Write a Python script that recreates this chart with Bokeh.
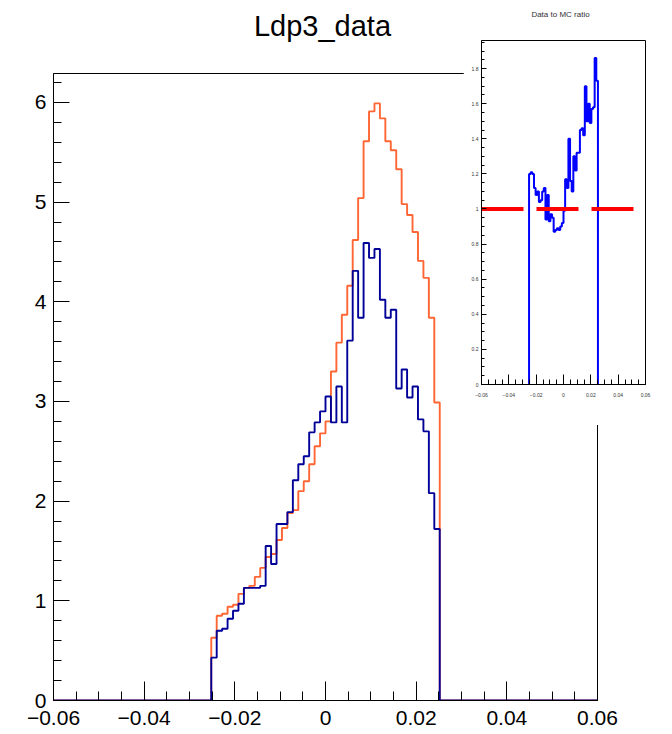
import numpy as np
from bokeh.plotting import figure
from bokeh.models import Range1d, FixedTicker, CustomJSTickFormatter, Column
from bokeh.core.properties import value
from bokeh.embed import file_html
from bokeh.resources import INLINE

# ---------------- data ----------------
N_BINS = 100
X_MIN, X_MAX = -0.06, 0.06
FIRST_BIN = 29          # first non-empty bin (0-based)

mc_values = [0.63, 0.85, 0.87, 0.94, 0.96, 1.07, 1.13, 1.15, 1.24, 1.33,
             1.44, 1.47, 1.61, 1.73, 1.88, 1.91, 2.10, 2.20, 2.37, 2.55,
             2.68, 2.80, 3.30, 3.59, 3.87, 4.16, 4.62, 5.04, 5.61, 5.91,
             5.99, 5.84, 5.61, 5.52, 5.33, 4.98, 4.87, 4.70, 4.41, 4.24,
             3.84, 2.99]

data_values = [0.43, 0.70, 0.72, 0.82, 0.90, 0.97, 1.13, 1.13, 1.13, 1.15,
               1.55, 1.37, 1.77, 1.77, 1.89, 2.21, 2.37, 2.45, 2.69, 2.79,
               2.90, 3.05, 2.79, 3.15, 2.79, 3.61, 4.31, 3.84, 4.59, 4.44,
               4.53, 4.02, 3.84, 3.92, 3.13, 3.32, 3.04, 3.15, 2.82, 2.70,
               2.08, 1.72]

ratio_values = [1.20, 1.21, 1.20, 1.12, 1.08, 1.10, 1.04, 1.05, 1.10, 1.12,
                0.94, 1.08, 0.93, 0.97, 0.95, 0.87, 0.88, 0.89, 0.88, 0.90,
                0.92, 0.99, 1.17, 1.12, 1.40, 1.16, 1.10, 1.30, 1.22, 1.32,
                1.32, 1.45, 1.46, 1.42, 1.70, 1.50, 1.60, 1.49, 1.57, 1.58,
                1.86, 1.73]

ratio_reference = 1.0

x_ticks = [-0.06, -0.04, -0.02, 0.0, 0.02, 0.04, 0.06]
y_ticks = [0, 1, 2, 3, 4, 5, 6]
inset_y_ticks = [0, 0.2, 0.4, 0.6, 0.8, 1.0, 1.2, 1.4, 1.6, 1.8]

main_title = "Ldp3_data"
inset_title = "Data to MC ratio"

Y_MAX = 6.29
INSET_Y_MAX = 1.96

FONT = "Liberation Sans"
MC_COLOR = "#ff6633"
DATA_COLOR = "#000099"

W, H = 672, 734

# ---------------- helpers ----------------
edges = np.linspace(X_MIN, X_MAX, N_BINS + 1)


def full_hist(vals):
    h = np.zeros(N_BINS)
    h[FIRST_BIN:FIRST_BIN + len(vals)] = vals
    return h


def outline(h):
    xs, ys = [edges[0]], [0.0]
    for i in range(N_BINS):
        xs += [edges[i], edges[i + 1]]
        ys += [h[i], h[i]]
    xs.append(edges[-1])
    ys.append(0.0)
    return xs, ys


def outline_range(vals):
    lo = FIRST_BIN
    xs, ys = [edges[lo]], [0.0]
    for k, v in enumerate(vals):
        xs += [edges[lo + k], edges[lo + k + 1]]
        ys += [v, v]
    xs.append(edges[lo + len(vals)])
    ys.append(0.0)
    return xs, ys


x_fmt = CustomJSTickFormatter(code="""
if (Math.abs(tick) < 1e-9) { return "0"; }
const s = Math.abs(tick).toFixed(2);
return tick < 0 ? "\u2212" + s : s;
""")

y_fmt_inset = CustomJSTickFormatter(code="""
if (Math.abs(tick) < 1e-9) { return "0"; }
if (Math.abs(tick - Math.round(tick)) < 1e-9) { return tick.toFixed(0); }
return tick.toFixed(1);
""")

x_minor = [round(v, 4) for v in np.arange(X_MIN, X_MAX + 1e-9, 0.005)]
y_minor = [round(v, 2) for v in np.arange(0, Y_MAX, 0.2)]
inset_y_minor = [round(v, 2) for v in np.arange(0, INSET_Y_MAX, 0.05)]

# ---------------- main figure ----------------
p = figure(width=W, height=H, output_backend="svg", toolbar_location=None,
           x_range=Range1d(X_MIN, X_MAX), y_range=Range1d(0, Y_MAX),
           min_border_left=53, min_border_right=75, min_border_top=73,
           min_border_bottom=34)
p.frame_align = False
p.background_fill_color = "white"
p.border_fill_color = "white"
p.outline_line_color = "black"
p.outline_line_width = 1
p.xgrid.visible = False
p.ygrid.visible = False

for ax in (p.xaxis[0], p.yaxis[0]):
    ax.axis_line_color = "black"
    ax.major_tick_line_color = "black"
    ax.minor_tick_line_color = "black"
    ax.major_tick_out = 0
    ax.minor_tick_out = 0
    ax.major_label_text_font = FONT
    ax.major_label_text_font_size = "21px"
    ax.major_label_text_color = "black"

p.xaxis.ticker = FixedTicker(ticks=x_ticks, minor_ticks=x_minor)
p.xaxis.formatter = x_fmt
p.xaxis.major_tick_in = 19
p.xaxis.minor_tick_in = 9
p.xaxis.major_label_standoff = 10

p.yaxis.ticker = FixedTicker(ticks=y_ticks, minor_ticks=y_minor)
p.yaxis.major_tick_in = 16
p.yaxis.minor_tick_in = 8
p.yaxis.major_label_standoff = 7

mx, my = outline(full_hist(mc_values))
dx, dy = outline(full_hist(data_values))
p.line(mx, my, line_color=MC_COLOR, line_width=1.9)
p.line(dx, dy, line_color=DATA_COLOR, line_width=1.9)

# ---------------- inset figure ----------------
q = figure(width=209, height=425, output_backend="svg", toolbar_location=None,
           x_range=Range1d(X_MIN, X_MAX), y_range=Range1d(0, INSET_Y_MAX),
           min_border_left=18, min_border_right=27, min_border_top=40,
           min_border_bottom=41)
q.frame_align = False
q.background_fill_color = "white"
q.border_fill_color = "white"
q.outline_line_color = "black"
q.outline_line_width = 1
q.xgrid.visible = False
q.ygrid.visible = False

for ax in (q.xaxis[0], q.yaxis[0]):
    ax.axis_line_color = "black"
    ax.major_tick_line_color = "black"
    ax.minor_tick_line_color = "black"
    ax.major_tick_out = 0
    ax.minor_tick_out = 0
    ax.major_label_text_font = FONT
    ax.major_label_text_font_size = "5px"
    ax.major_label_text_color = "#333333"

q.xaxis.ticker = FixedTicker(ticks=x_ticks, minor_ticks=x_minor)
q.xaxis.formatter = x_fmt
q.xaxis.major_tick_in = 10
q.xaxis.minor_tick_in = 5
q.xaxis.major_label_standoff = 8

q.yaxis.ticker = FixedTicker(ticks=inset_y_ticks, minor_ticks=inset_y_minor)
q.yaxis.formatter = y_fmt_inset
q.yaxis.major_tick_in = 5
q.yaxis.minor_tick_in = 3
q.yaxis.major_label_standoff = 3

rx, ry = outline_range(ratio_values)
q.line(rx, ry, line_color="#0000ff", line_width=2)
q.line([X_MIN, X_MAX], [ratio_reference, ratio_reference], line_color="red",
       line_width=4, line_dash="42 13")

q.styles = {"position": "absolute", "left": "463px", "top": "0px", "z-index": "10"}

# ---------------- transparent text layer for the two titles ----------------
t = figure(width=W, height=H, output_backend="svg", toolbar_location=None,
           x_range=Range1d(0, W), y_range=Range1d(H, 0), min_border=0,
           x_axis_location=None, y_axis_location=None)
t.frame_align = False
t.grid.visible = False
t.outline_line_color = None
t.background_fill_alpha = 0
t.border_fill_alpha = 0
t.text(x=[322], y=[25], text=[main_title], text_font=value(FONT),
       text_font_size="29px", text_color="black", text_align="center",
       text_baseline="alphabetic")
t.text(x=[560], y=[14], text=[inset_title], text_font=value(FONT),
       text_font_size="8px", text_color="#333333", text_align="center",
       text_baseline="alphabetic")
t.styles = {"position": "absolute", "left": "0px", "top": "0px",
            "z-index": "20", "pointer-events": "none"}

layout = Column(p, q, t, styles={"position": "relative"})

with open("out.html", "w") as f:
    f.write(file_html(layout, INLINE))
